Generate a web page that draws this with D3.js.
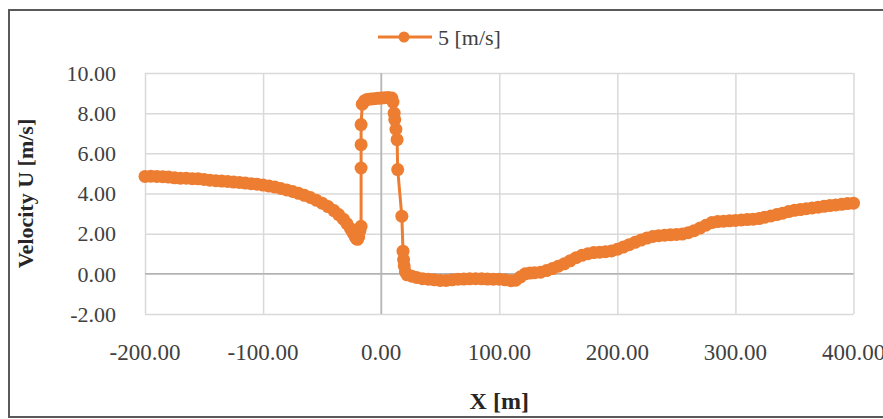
<!DOCTYPE html>
<html>
<head>
<meta charset="utf-8">
<script src="https://cdn.jsdelivr.net/npm/d3@7/dist/d3.min.js"></script>
<style>
    body { margin: 0; background: #fff; }
    text { font-family: "Liberation Serif", "Times New Roman", Times, serif; }
</style>
</head>
<body>
<div id="chart"></div>
<script>
// distance along the section [m]
const xValues = [
    -200, -195, -190, -185, -180, -175, -170, -165, -160, -155,
    -150, -145, -140, -135, -130, -125, -120, -115, -110, -105,
    -100, -95, -90, -85, -80, -75, -70, -65, -60, -55,
    -50, -45, -40, -36, -32, -29, -26, -24, -22, -21,
    -20, -19, -18, -17, -17, -17, -17, -16, -14, -12,
    -9, -6, -3, 0, 3, 6, 9, 10, 11, 11.5,
    12.5, 13.5, 14, 17.5, 18.5, 19, 19.5, 20.5, 22, 26,
    30, 35, 40, 45, 50, 55, 60, 65, 70, 75,
    80, 85, 90, 95, 100, 105, 110, 114, 118, 122,
    126, 130, 135, 140, 145, 150, 155, 160, 165, 170,
    175, 180, 185, 190, 195, 200, 205, 210, 215, 220,
    225, 230, 235, 240, 245, 250, 255, 260, 265, 270,
    275, 280, 285, 290, 295, 300, 305, 310, 315, 320,
    325, 330, 335, 340, 345, 350, 355, 360, 365, 370,
    375, 380, 385, 390, 395, 400
];

// velocity U [m/s] for 5 [m/s]
const uValues = [
    4.85, 4.86, 4.85, 4.84, 4.82, 4.78, 4.76, 4.76, 4.74, 4.73,
    4.70, 4.66, 4.64, 4.62, 4.60, 4.57, 4.55, 4.52, 4.49, 4.46,
    4.42, 4.37, 4.32, 4.25, 4.18, 4.10, 4.01, 3.91, 3.80, 3.67,
    3.52, 3.35, 3.15, 2.95, 2.72, 2.50, 2.25, 2.05, 1.85, 1.75,
    1.72, 1.85, 2.15, 2.37, 5.27, 6.43, 7.43, 8.45, 8.62, 8.68,
    8.70, 8.72, 8.74, 8.75, 8.77, 8.78, 8.75, 8.55, 8.00, 7.68,
    7.20, 6.68, 5.19, 2.87, 1.13, 0.71, 0.40, 0.10, -0.05, -0.12,
    -0.18, -0.24, -0.27, -0.30, -0.33, -0.33, -0.30, -0.27, -0.26, -0.25,
    -0.24, -0.25, -0.26, -0.27, -0.27, -0.30, -0.34, -0.32, -0.15, 0.00,
    0.04, 0.06, 0.08, 0.16, 0.26, 0.38, 0.50, 0.65, 0.80, 0.92,
    1.00, 1.06, 1.08, 1.10, 1.14, 1.22, 1.33, 1.45, 1.57, 1.68,
    1.78, 1.86, 1.90, 1.92, 1.94, 1.96, 1.98, 2.05, 2.15, 2.28,
    2.42, 2.55, 2.60, 2.62, 2.64, 2.66, 2.68, 2.70, 2.72, 2.75,
    2.82, 2.88, 2.95, 3.02, 3.10, 3.16, 3.20, 3.24, 3.28, 3.32,
    3.36, 3.40, 3.43, 3.46, 3.50, 3.52
];

const xTicks = [-200, -100, 0, 100, 200, 300, 400];
const yTicks = [-2, 0, 2, 4, 6, 8, 10];
const seriesName = '5 [m/s]';

const width = 883, height = 419;
const plotLeft = 145, plotRight = 853.5, plotTop = 73, plotBottom = 314;
const orange = '#ed7d31';

const points = xValues.map(function (x, i) { return [x, uValues[i]]; });

// excel style "0.00" with a plain hyphen
const fmt = function (d) { return d.toFixed(2); };

const svg = d3.select('#chart').append('svg')
    .attr('width', width)
    .attr('height', height);

// outer frame
svg.append('rect')
    .attr('x', 9).attr('y', 10)
    .attr('width', width).attr('height', 407)
    .attr('fill', 'none')
    .attr('stroke', '#595959')
    .attr('stroke-width', 2);

const xScale = d3.scaleLinear().domain([-200, 400]).range([plotLeft, plotRight]);
const yScale = d3.scaleLinear().domain([-2, 10]).range([plotBottom, plotTop]);

// gridlines
svg.append('g')
    .attr('transform', `translate(0, ${plotBottom})`)
    .call(d3.axisBottom(xScale).tickValues(xTicks).tickSize(-(plotBottom - plotTop)).tickFormat(''))
    .call(function (g) { g.select('.domain').remove(); })
    .selectAll('line').attr('stroke', '#d9d9d9').attr('stroke-width', 1.5);

svg.append('g')
    .attr('transform', `translate(${plotLeft}, 0)`)
    .call(d3.axisLeft(yScale).tickValues(yTicks).tickSize(-(plotRight - plotLeft)).tickFormat(''))
    .call(function (g) { g.select('.domain').remove(); })
    .selectAll('line').attr('stroke', '#d9d9d9').attr('stroke-width', 1.5);

// axis lines crossing at zero
svg.append('line')
    .attr('x1', xScale(0)).attr('x2', xScale(0))
    .attr('y1', plotTop).attr('y2', plotBottom)
    .attr('stroke', '#b3b3b3').attr('stroke-width', 1.5);
svg.append('line')
    .attr('x1', plotLeft).attr('x2', plotRight)
    .attr('y1', yScale(0)).attr('y2', yScale(0))
    .attr('stroke', '#b3b3b3').attr('stroke-width', 1.5);

// tick labels
svg.selectAll('.xlab')
    .data(xTicks)
    .enter().append('text')
    .attr('class', 'xlab')
    .attr('x', function (d) { return xScale(d); })
    .attr('y', 360)
    .attr('text-anchor', 'middle')
    .attr('font-size', 23)
    .attr('fill', '#404040')
    .text(fmt);

svg.selectAll('.ylab')
    .data(yTicks)
    .enter().append('text')
    .attr('class', 'ylab')
    .attr('x', 116)
    .attr('y', function (d) { return yScale(d); })
    .attr('dy', '0.35em')
    .attr('text-anchor', 'end')
    .attr('font-size', 22)
    .attr('fill', '#404040')
    .text(fmt);

// axis titles
svg.append('text')
    .attr('x', (plotLeft + plotRight) / 2)
    .attr('y', 409)
    .attr('text-anchor', 'middle')
    .attr('font-size', 24)
    .attr('font-weight', 'bold')
    .attr('fill', '#262626')
    .text('X [m]');

svg.append('text')
    .attr('transform', `translate(33, ${(plotTop + plotBottom) / 2}) rotate(-90)`)
    .attr('text-anchor', 'middle')
    .attr('font-size', 22)
    .attr('font-weight', 'bold')
    .attr('fill', '#262626')
    .text('Velocity U [m/s]');

// series
const line = d3.line()
    .x(function (p) { return xScale(p[0]); })
    .y(function (p) { return yScale(p[1]); });

svg.append('path')
    .datum(points)
    .attr('d', line)
    .attr('fill', 'none')
    .attr('stroke', orange)
    .attr('stroke-width', 3);

svg.selectAll('.dot')
    .data(points)
    .enter().append('circle')
    .attr('class', 'dot')
    .attr('r', 6.5)
    .attr('cx', function (p) { return xScale(p[0]); })
    .attr('cy', function (p) { return yScale(p[1]); })
    .attr('fill', orange);

// legend
const legend = svg.append('g').attr('transform', 'translate(378, 37)');
legend.append('line')
    .attr('x1', 0).attr('x2', 54)
    .attr('stroke', orange).attr('stroke-width', 3);
legend.append('circle')
    .attr('cx', 26).attr('r', 5.5)
    .attr('fill', orange);
legend.append('text')
    .attr('x', 60)
    .attr('dy', '0.35em')
    .attr('font-size', 22)
    .attr('fill', '#404040')
    .text(seriesName);
</script>
</body>
</html>
